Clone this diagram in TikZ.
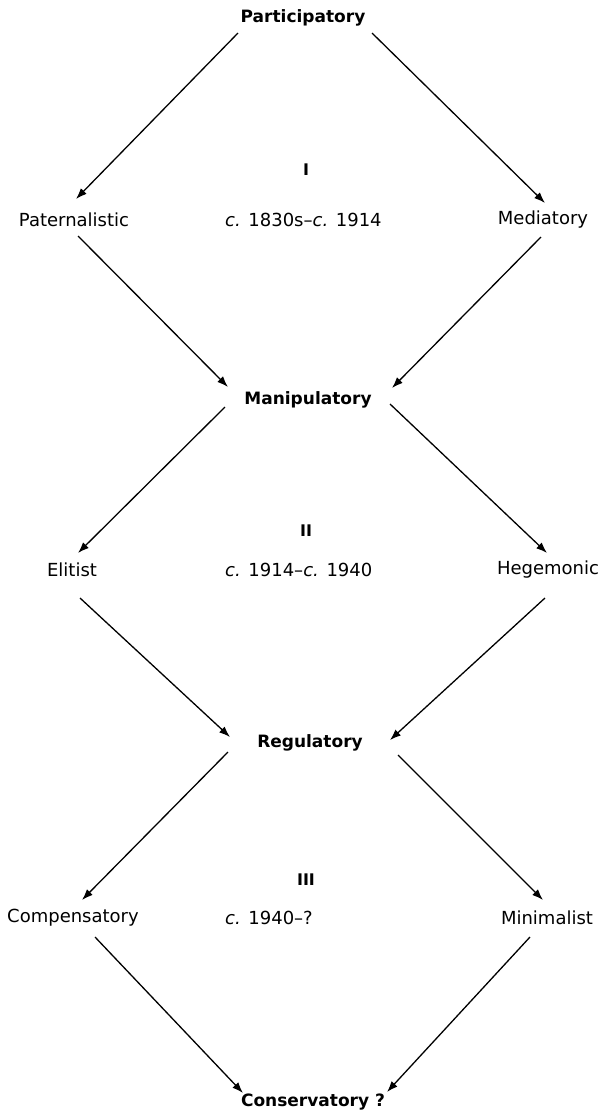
\documentclass[tikz,border=0pt]{standalone}
\usepackage{fontspec}
\setmainfont{DejaVu Sans}
\usetikzlibrary{arrows.meta}
\begin{document}
\begin{tikzpicture}[x=1pt,y=-1pt,
  lab/.style={inner sep=0pt,font=\fontsize{18}{20}\selectfont},
  head/.style={inner sep=0pt,font=\fontsize{17}{20}\selectfont\bfseries},
  num/.style={inner sep=0pt,font=\fontsize{16}{20}\selectfont\bfseries},
  arr/.style={line width=1.3pt,-{Latex[length=11pt,width=8pt]}}]
\useasboundingbox (0,0) rectangle (605,1120);
\node[head] (part) at (303,18) {Participatory};
\node[lab] (pat) at (74,220) {Paternalistic};
\node[lab] (med) at (543,220) {Mediatory};
\node[num] (num1) at (306,170) {I};
\node[lab,anchor=west] (date1) at (225,220) {\textit{c.} 1830s–\textit{c.} 1914};
\node[head] (manip) at (308,400) {Manipulatory};
\node[lab] (eli) at (72,570) {Elitist};
\node[lab] (heg) at (548,570) {Hegemonic};
\node[num] (num2) at (306,531) {II};
\node[lab,anchor=west] (date2) at (225,570) {\textit{c.} 1914–\textit{c.} 1940};
\node[head] (reg) at (310,743) {Regulatory};
\node[lab] (comp) at (73,918) {Compensatory};
\node[lab] (mini) at (547,918) {Minimalist};
\node[num] (num3) at (306,880) {III};
\node[lab,anchor=west] (date3) at (225,918) {\textit{c.} 1940–?};
\node[head] (cons) at (313,1102) {Conservatory ?};
\draw[arr] ([shift={(-65,15)}]part.center) -- ([shift={(2,-21)}]pat.center);
\draw[arr] ([shift={(69,15)}]part.center) -- ([shift={(2,-17)}]med.center);
\draw[arr] ([shift={(4,16)}]pat.center) -- ([shift={(-80,-13)}]manip.center);
\draw[arr] ([shift={(-2,17)}]med.center) -- ([shift={(84,-12)}]manip.center);
\draw[arr] ([shift={(-83,7)}]manip.center) -- ([shift={(6,-17)}]eli.center);
\draw[arr] ([shift={(82,4)}]manip.center) -- ([shift={(-1,-17)}]heg.center);
\draw[arr] ([shift={(8,28)}]eli.center) -- ([shift={(-80,-6)}]reg.center);
\draw[arr] ([shift={(-3,28)}]heg.center) -- ([shift={(80,-3)}]reg.center);
\draw[arr] ([shift={(-82,9)}]reg.center) -- ([shift={(9,-18)}]comp.center);
\draw[arr] ([shift={(88,12)}]reg.center) -- ([shift={(-4,-18)}]mini.center);
\draw[arr] ([shift={(22,19)}]comp.center) -- ([shift={(-70,-9)}]cons.center);
\draw[arr] ([shift={(-17,19)}]mini.center) -- ([shift={(74,-10)}]cons.center);
\end{tikzpicture}
\end{document}
